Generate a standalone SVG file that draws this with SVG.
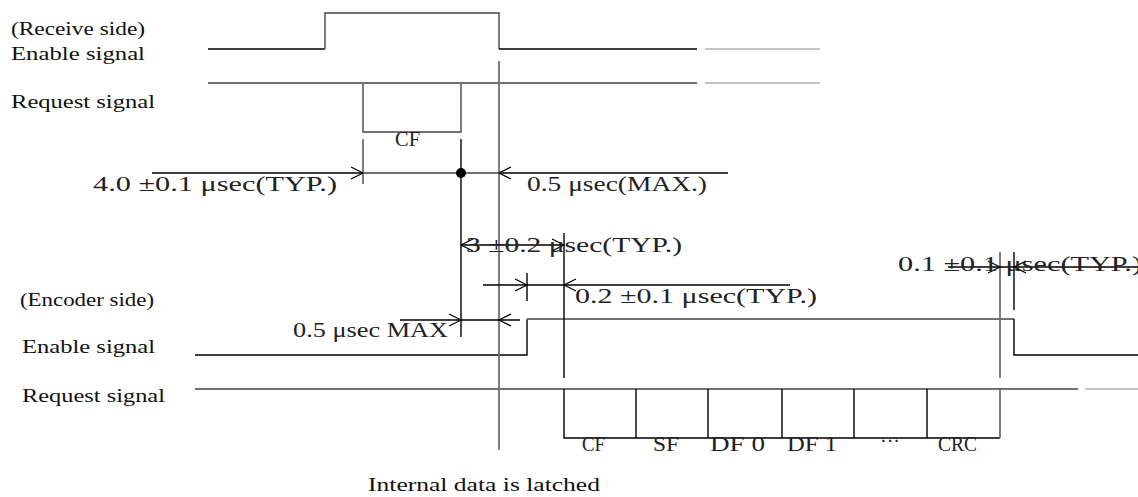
<svg xmlns="http://www.w3.org/2000/svg" width="1138" height="497" viewBox="0 0 1138 497">
<style>
.lbl{font-family:"Liberation Serif",serif;font-size:18px;fill:#111}
.tm{font-family:"Liberation Serif",serif;font-size:21px;fill:#222}
.dl{font-family:"Liberation Serif",serif;font-size:22px;fill:#222}
.k{stroke:#000;stroke-width:1.4;fill:none}
.g{stroke:#707070;stroke-width:1.8;fill:none}
.lg{stroke:#b0b0b0;stroke-width:1.6;fill:none}
.ah{stroke:#000;stroke-width:1.2;fill:none}
</style>
<rect width="1138" height="497" fill="#fff"/>
<g id="labels">
<text class="lbl" x="11" y="35" textLength="134" lengthAdjust="spacingAndGlyphs">(Receive side)</text>
<text class="lbl" x="11" y="60" textLength="134" lengthAdjust="spacingAndGlyphs">Enable signal</text>
<text class="lbl" x="11" y="108" textLength="144" lengthAdjust="spacingAndGlyphs">Request signal</text>
<text class="lbl" x="20" y="306" textLength="134" lengthAdjust="spacingAndGlyphs">(Encoder side)</text>
<text class="lbl" x="22" y="353" textLength="133" lengthAdjust="spacingAndGlyphs">Enable signal</text>
<text class="lbl" x="22" y="402" textLength="143" lengthAdjust="spacingAndGlyphs">Request signal</text>
<text class="lbl" x="368" y="491" textLength="232" lengthAdjust="spacingAndGlyphs">Internal data is latched</text>
</g>
<g id="receive-enable">
<path class="k" d="M208 49H325"/>
<path class="g" d="M325 49V13H499V49"/>
<path class="k" d="M499 49H697"/>
<path class="lg" d="M705 49H820"/>
</g>
<g id="receive-request">
<path class="g" d="M208 83H697"/>
<path class="lg" d="M705 83H820"/>
<path class="g" d="M363 83V132H461V83"/>
<text class="dl" x="395" y="146" textLength="25" lengthAdjust="spacingAndGlyphs">CF</text>
</g>
<g id="encoder-enable">
<path class="k" d="M195 355H527V319"/>
<path class="g" d="M527 319H1014"/>
<path class="k" d="M1014 319V355H1138"/>
</g>
<g id="encoder-request">
<path class="g" d="M195 389H1078"/>
<path class="lg" d="M1085 389H1138"/>
<path class="k" d="M564 389V438H1000"/>
<path class="k" d="M636 389V438M708 389V438M782 389V438M854 389V438M927 389V438"/>
<path class="g" d="M1000 389V438"/>
<text class="dl" x="582" y="451" textLength="23" lengthAdjust="spacingAndGlyphs">CF</text>
<text class="dl" x="653" y="451" textLength="26" lengthAdjust="spacingAndGlyphs">SF</text>
<text class="dl" x="710" y="451" textLength="55" lengthAdjust="spacingAndGlyphs">DF 0</text>
<text class="dl" x="787" y="451" textLength="50" lengthAdjust="spacingAndGlyphs">DF 1</text>
<text class="dl" x="880" y="448" textLength="20" lengthAdjust="spacingAndGlyphs">···</text>
<text class="dl" x="938" y="451" textLength="39" lengthAdjust="spacingAndGlyphs">CRC</text>
</g>
<g id="connectors">
<path class="g" d="M499 61V450"/>
<path class="g" d="M363 139V184"/>
<path class="k" d="M461 139V337"/>
<path class="k" d="M152 173H363"/>
<path class="g" d="M363 173H499"/>
<path class="k" d="M499 173H728"/>
<circle cx="461" cy="173" r="5" fill="#000"/>
<path class="k" d="M461 245H564"/>
<path class="k" d="M564 233V378"/>
<path class="k" d="M527 273V301"/>
<path class="k" d="M483 285H790"/>
<path class="k" d="M400 320H520"/>
<path class="g" d="M1000 252V378"/>
<path class="k" d="M1014 252V310"/>
<path class="k" d="M948 267H1138"/>
<g id="arrowheads">
<path class="ah" d="M351 167L363 173L351 179"/>
<path class="ah" d="M511 167L499 173L511 179"/>
<path class="ah" d="M473 239L461 245L473 251"/>
<path class="ah" d="M552 239L564 245L552 251"/>
<path class="ah" d="M515 279L527 285L515 291"/>
<path class="ah" d="M576 279L564 285L576 291"/>
<path class="ah" d="M449 314L461 320L449 326"/>
<path class="ah" d="M511 314L499 320L511 326"/>
<path class="ah" d="M988 261L1000 267L988 273"/>
<path class="ah" d="M1026 261L1014 267L1026 273"/>
</g>
</g>
<g id="timing-labels">
<text class="tm" x="93" y="191" textLength="244" lengthAdjust="spacingAndGlyphs">4.0 ±0.1 μsec(TYP.)</text>
<text class="tm" x="527" y="191" textLength="180" lengthAdjust="spacingAndGlyphs">0.5 μsec(MAX.)</text>
<text class="tm" x="466" y="252" textLength="216" lengthAdjust="spacingAndGlyphs">3 ±0.2 μsec(TYP.)</text>
<text class="tm" x="898" y="271" textLength="244" lengthAdjust="spacingAndGlyphs">0.1 ±0.1 μsec(TYP.)</text>
<text class="tm" x="575" y="303" textLength="242" lengthAdjust="spacingAndGlyphs">0.2 ±0.1 μsec(TYP.)</text>
<text class="tm" x="293" y="337" textLength="155" lengthAdjust="spacingAndGlyphs">0.5 μsec MAX</text>
</g>
</svg>
